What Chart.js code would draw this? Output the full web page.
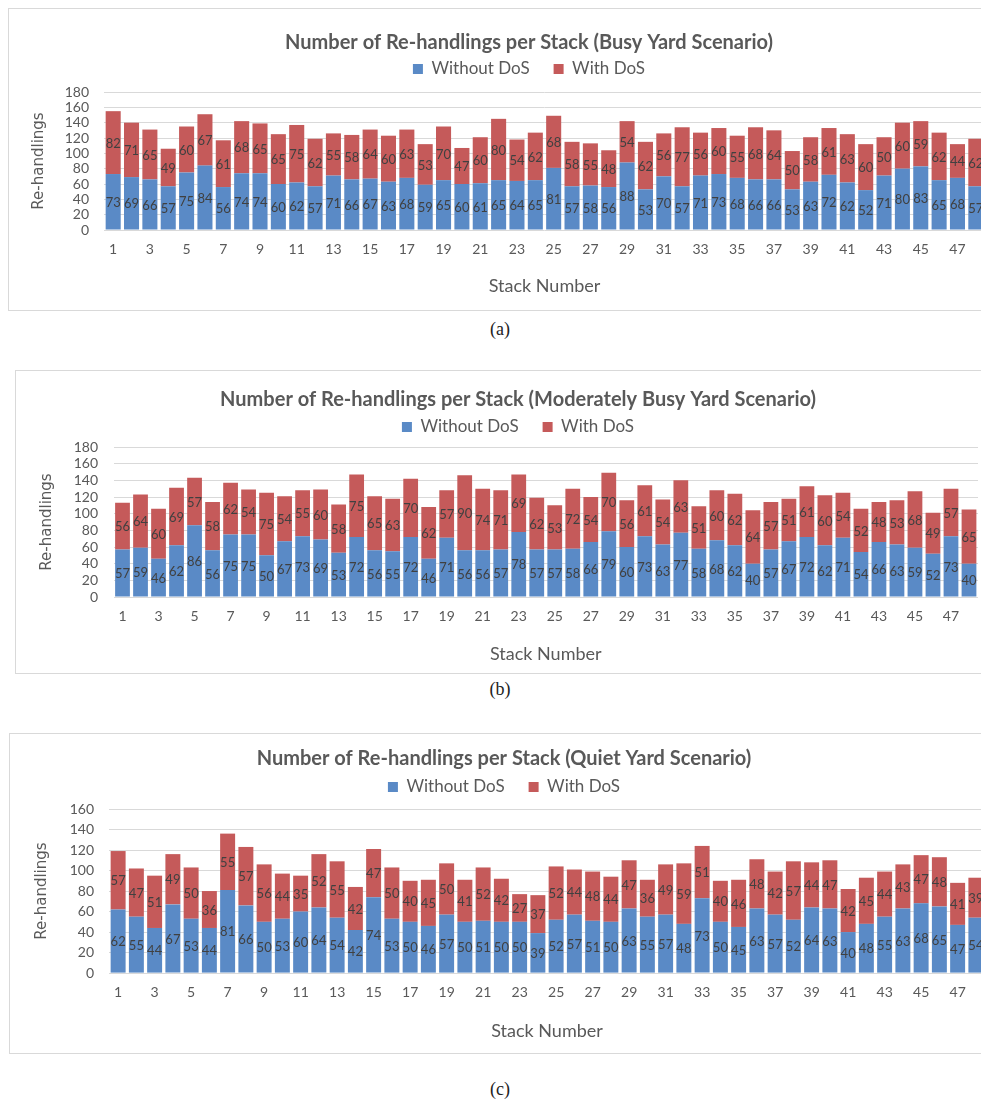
<!DOCTYPE html>
<html>
<head>
<meta charset="utf-8">
<script src="https://cdn.jsdelivr.net/npm/chart.js@4.4.1/dist/chart.umd.min.js"></script>
<style>
  body { margin: 0; background: #fff; overflow: hidden; width: 981px; height: 1102px; position: relative; }
  .box { position: absolute; border: 1px solid #d9d9d9; background: #fff; }
  .cap { position: absolute; width: 40px; text-align: center; font: 18px 'Liberation Serif', serif; color: #222; }
</style>
</head>
<body>
<div class="box" style="left:8px;top:8px;width:1040px;height:301px"><canvas id="chartA"></canvas></div>
<div class="cap" style="left:480px;top:319px">(a)</div>
<div class="box" style="left:15px;top:370px;width:1004px;height:302px"><canvas id="chartB"></canvas></div>
<div class="cap" style="left:480px;top:679px">(b)</div>
<div class="box" style="left:9px;top:733px;width:988px;height:319px"><canvas id="chartC"></canvas></div>
<div class="cap" style="left:480px;top:1079px">(c)</div>
<script>
const stackNumbers = [1,2,3,4,5,6,7,8,9,10,11,12,13,14,15,16,17,18,19,20,21,22,23,24,
  25,26,27,28,29,30,31,32,33,34,35,36,37,38,39,40,41,42,43,44,45,46,47,48]

// (a) busy yard
const busyWithout = [73,69,66,57,75,84,56,74,74,60,62,57,71,66,67,63,68,59,65,60,61,65,64,65,
  81,57,58,56,88,53,70,57,71,73,68,66,66,53,63,72,62,52,71,80,83,65,68,57]
const busyWith = [82,71,65,49,60,67,61,68,65,65,75,62,55,58,64,60,63,53,70,47,60,80,54,62,
  68,58,55,48,54,62,56,77,56,60,55,68,64,50,58,61,63,60,50,60,59,62,44,62]

// (b) moderately busy yard
const moderateWithout = [57,59,46,62,86,56,75,75,50,67,73,69,53,72,56,55,72,46,71,56,56,57,78,57,
  57,58,66,79,60,73,63,77,58,68,62,40,57,67,72,62,71,54,66,63,59,52,73,40]
const moderateWith = [56,64,60,69,57,58,62,54,75,54,55,60,58,75,65,63,70,62,57,90,74,71,69,62,
  53,72,54,70,56,61,54,63,51,60,62,64,57,51,61,60,54,52,48,53,68,49,57,65]

// (c) quiet yard
const quietWithout = [62,55,44,67,53,44,81,66,50,53,60,64,54,42,74,53,50,46,57,50,51,50,50,39,
  52,57,51,50,63,55,57,48,73,50,45,63,57,52,64,63,40,48,55,63,68,65,47,54]
const quietWith = [57,47,51,49,50,36,55,57,56,44,35,52,55,42,47,50,40,45,50,41,52,42,27,37,
  52,44,48,44,47,36,49,59,51,40,46,48,42,57,44,47,42,45,44,43,47,48,41,39]

const blue = '#5a8ac6'
const red = '#c55a5a'
const grey = '#595959'

// numbers inside the bar segments
const barLabels = {
  id: 'barLabels',
  afterDatasetsDraw(chart) {
    const ctx = chart.ctx
    ctx.save()
    ctx.font = '13px Lato'
    ctx.fillStyle = '#404040'
    ctx.textAlign = 'center'
    ctx.textBaseline = 'middle'
    chart.data.datasets.forEach((ds, i) => {
      chart.getDatasetMeta(i).data.forEach((bar, j) => {
        ctx.fillText(ds.data[j], bar.x, (bar.y + bar.base) / 2 + 1)
      })
    })
    ctx.restore()
  }
}

function makeChart(id, title, without, withDos, yMax, lay) {
  return new Chart(document.getElementById(id), {
    type: 'bar',
    data: {
      labels: stackNumbers,
      datasets: [
        { label: 'Without DoS', data: without, backgroundColor: blue, barPercentage: 0.82, categoryPercentage: 1 },
        { label: 'With DoS', data: withDos, backgroundColor: red, barPercentage: 0.82, categoryPercentage: 1 }
      ]
    },
    options: {
      responsive: true,
      maintainAspectRatio: false,
      animation: false,
      layout: { padding: 0 },
      plugins: {
        title: {
          display: true,
          text: title,
          color: grey,
          font: { family: 'Lato', size: 20, weight: 'bold' },
          padding: { top: lay.titleTop, bottom: lay.titleBottom }
        },
        // empty subtitle used as a gap between legend and plot
        subtitle: {
          display: true,
          text: '',
          weight: 500,
          font: { size: lay.spacer, lineHeight: 1 },
          padding: 0
        },
        legend: {
          position: 'top',
          labels: {
            color: grey,
            font: { family: 'Lato', size: 17 },
            boxWidth: 10,
            boxHeight: 10,
            padding: 24
          }
        },
        tooltip: { enabled: false }
      },
      scales: {
        x: {
          stacked: true,
          grid: { display: false, drawTicks: false },
          border: { display: false },
          ticks: {
            color: grey,
            font: { family: 'Lato', size: 14 },
            padding: 11,
            autoSkip: false,
            maxRotation: 0,
            callback: (v, i) => i % 2 === 0 ? stackNumbers[i] : ''
          },
          title: {
            display: true,
            text: 'Stack Number',
            color: grey,
            font: { family: 'Lato', size: 18 },
            padding: { top: lay.xTitleTop, bottom: lay.xTitleBottom }
          }
        },
        y: {
          stacked: true,
          min: 0,
          max: yMax,
          grid: { color: '#d9d9d9', drawTicks: false },
          border: { display: false },
          ticks: {
            stepSize: 20,
            autoSkip: false,
            color: grey,
            font: { family: 'Lato', size: 14 },
            padding: lay.tickPad
          },
          title: {
            display: true,
            text: 'Re-handlings',
            color: grey,
            font: { family: "'DejaVu Sans', sans-serif", size: 15 },
            padding: { top: lay.yTitleTop, bottom: 0 }
          },
          afterFit: (scale) => { scale.width = lay.yWidth }
        },
        // blank right axis, only to keep room on the right of the plot
        yRight: {
          position: 'right',
          grid: { display: false },
          border: { display: false },
          ticks: { display: false },
          afterFit: (scale) => { scale.width = lay.right }
        }
      }
    },
    plugins: [barLabels]
  })
}

makeChart('chartA', 'Number of Re-handlings per Stack (Busy Yard Scenario)', busyWithout, busyWith, 180,
  { right: 64, titleTop: 22, titleBottom: -18.5, spacer: 4.5, xTitleTop: 7, xTitleBottom: 12.6, tickPad: 15, yTitleTop: 21, yWidth: 95 })
makeChart('chartB', 'Number of Re-handlings per Stack (Moderately Busy Yard Scenario)', moderateWithout, moderateWith, 180,
  { right: 42, titleTop: 17, titleBottom: -17.5, spacer: 1.5, xTitleTop: 8, xTitleBottom: 7.6, tickPad: 15.5, yTitleTop: 22, yWidth: 97.5 })
makeChart('chartC', 'Number of Re-handlings per Stack (Quiet Yard Scenario)', quietWithout, quietWith, 160,
  { right: 13, titleTop: 13, titleBottom: -16.5, spacer: 3.5, xTitleTop: 8, xTitleBottom: 11.5, tickPad: 15, yTitleTop: 23, yWidth: 99 })
</script>
</body>
</html>
